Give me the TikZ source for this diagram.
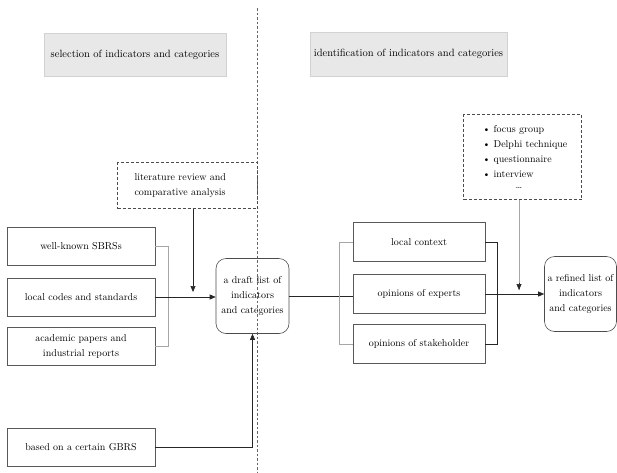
\documentclass[tikz,border=0pt]{standalone}
\usetikzlibrary{arrows.meta}
\begin{document}
\begin{tikzpicture}[x=1pt,y=-1pt,
  every node/.style={font=\fontsize{10}{15}\selectfont, inner sep=1pt},
  box/.style={draw=black!65, line width=0.6pt, minimum width=148pt, minimum height=38pt, align=center},
  rbox/.style={draw=black!65, line width=0.6pt, minimum width=132pt, minimum height=39pt, align=center},
  hdr/.style={fill=gray!18, draw=gray!35, line width=0.5pt, font=\fontsize{10.5}{12}\selectfont, align=center},
  roundbox/.style={draw=black!70, line width=0.6pt, rounded corners=10pt, align=center, minimum height=75pt},
  dbox/.style={draw=black!70, densely dashed, line width=0.6pt, align=left},
  conn/.style={draw=black!85, line width=0.7pt},
  light/.style={draw=black!35, line width=0.6pt},
  arr/.style={-{Triangle[length=6pt,width=5pt]}}
]
\useasboundingbox (0,0) rectangle (617,472);
% divider
\draw[black!60, dash pattern=on 2.5pt off 2pt, line width=0.6pt] (257,8) -- (257,472);
% headers
\node[hdr, minimum width=182pt, minimum height=43pt] (h1) at (135,54.5) {selection of indicators and categories};
\node[hdr, minimum width=197pt, minimum height=44pt] (h2) at (408.5,54) {identification of indicators and categories};
% left column
\node[box] (sbrs) at (81,246) {well-known SBRSs};
\node[box] (local) at (81,297) {local codes and standards};
\node[box] (acad) at (81,346.5) {academic papers and\\industrial reports};
\node[box] (gbrs) at (81,447.5) {based on a certain GBRS};
\node[dbox, minimum width=140pt, minimum height=46pt, text width=130pt, inner sep=0pt] (lit) at (187.5,185.5)
  {\hspace*{12pt}literature review and\\\hspace*{12pt}comparative analysis};
\node[roundbox, minimum width=73pt] (draft) at (252.5,296) {a draft list of\\indicators\\and categories};
% right column
\node[rbox] (ctx) at (419,242) {local context};
\node[rbox] (exp) at (419,294) {opinions of experts};
\node[rbox] (stk) at (419,344) {opinions of stakeholder};
\node[dbox, minimum width=118pt, minimum height=85pt, text width=104pt, inner sep=0pt] (focus) at (522.5,157)
  {\hspace*{12pt}\textbullet\ focus group\\\hspace*{12pt}\textbullet\ Delphi technique\\\hspace*{12pt}\textbullet\ questionnaire\\\hspace*{12pt}\textbullet\ interview\\[-4pt]\hspace*{45pt}\ldots};
\node[roundbox, minimum width=72pt] (refined) at (580.5,294) {a refined list of\\indicators\\and categories};
% connectors left
\draw[light] (sbrs.east) -- ++(13,0) |- (acad.east);
\draw[conn, arr] (local.east) -- (local.east -| draft.west);
\coordinate (litend) at (193,292);
\draw[conn, arr] (lit.south -| litend) -- (litend);
\draw[conn, arr] (gbrs.east) -| (draft.south);
% middle line
\draw[conn] (draft.east |- 0,296) -- (exp.west |- 0,296);
% right brackets
\draw[light] (ctx.west) -- ++(-13,0) |- (stk.west);
\draw[conn] (ctx.east) -- ++(12,0) |- (stk.east);
\draw[conn, arr] (exp.east) -- (refined.west);
\coordinate (focend) at (519,290);
\draw[light] (focus.south -| focend) -- (focend);
\draw[conn, arr] (519,283) -- (focend);
\end{tikzpicture}
\end{document}
